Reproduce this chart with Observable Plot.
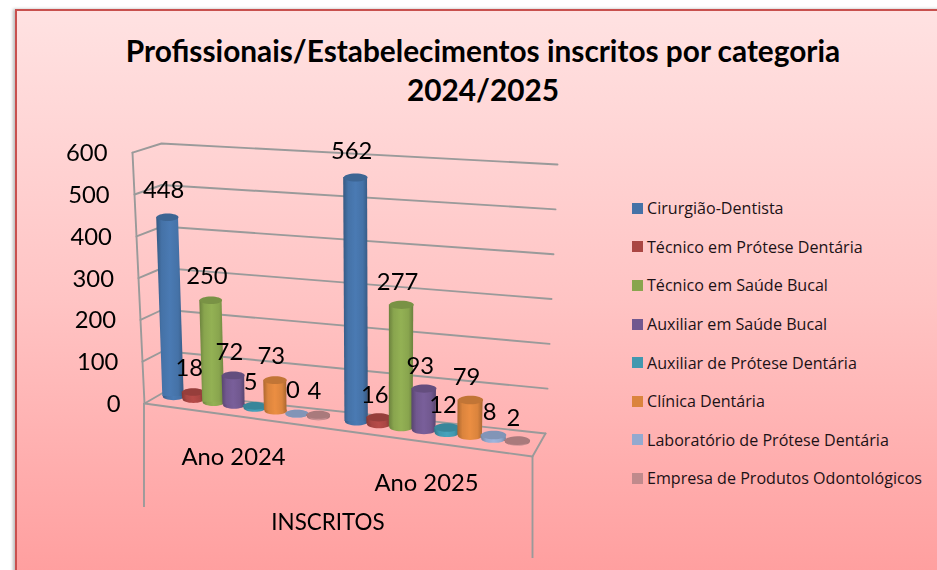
<!DOCTYPE html>
<html lang="pt">
<head>
<meta charset="utf-8">
<script src="https://cdn.jsdelivr.net/npm/d3@7"></script>
<script src="https://cdn.jsdelivr.net/npm/@observablehq/plot@0.6"></script>
<style>
  html, body { margin: 0; padding: 0; background: #fff; }
  #page { position: relative; width: 937px; height: 570px; overflow: hidden; font-family: Lato, sans-serif; color: #000; }
  #frame { position: absolute; left: 15px; top: 9px; width: 940px; height: 580px; box-sizing: border-box;
           border: 2px solid #c8504e; box-shadow: -2px 0 3px #bbb;
           background: linear-gradient(180deg, #ffe2e2 0%, #ffc4c4 50%, #ff9d9d 100%); }
  #title { position: absolute; left: 16px; width: 934px; top: 31px; text-align: center; font-weight: 700; font-size: 29.8px; line-height: 39px; margin: 0; }
  #chart { position: absolute; left: 0; top: 110px; }
  #chart svg { background: transparent; filter: blur(0.4px); overflow: visible; }
  #legend { position: absolute; left: 632px; top: 189px; font-family: "Open Sans", sans-serif; font-size: 16.1px; color: #1c1216; }
  .row { display: flex; align-items: center; height: 38.6px; white-space: nowrap; }
  .row i { display: block; width: 11px; height: 11px; margin-right: 4px; }
</style>
</head>
<body>
<div id="page">
  <div id="frame"></div>
  <h1 id="title">Profissionais/Estabelecimentos inscritos por categoria<br>2024/2025</h1>
  <div id="chart"></div>
  <div id="legend"></div>
</div>
<script>
// ---- data ----
const years = ["Ano 2024", "Ano 2025"];
const categories = [
  "Cirurgião-Dentista",
  "Técnico em Prótese Dentária",
  "Técnico em Saúde Bucal",
  "Auxiliar em Saúde Bucal",
  "Auxiliar de Prótese Dentária",
  "Clínica Dentária",
  "Laboratório de Prótese Dentária",
  "Empresa de Produtos Odontológicos"
];
const values2024 = [448, 18, 250, 72, 5, 73, 0, 4];
const values2025 = [562, 16, 277, 93, 12, 79, 8, 2];
const colors = ["#4572A7", "#AA4643", "#89A54E", "#71588F", "#4198AF", "#DB843D", "#93A9CF", "#C08A8C"];
const yTicks = [0, 100, 200, 300, 400, 500, 600];
const axisTitle = "INSCRITOS";

// ---- oblique 3D projection: (slot along the floor, value) -> plot coordinates ----
const K = 0.418;                       // pixels per value unit at the front-left edge
const OFFSET_TOP = 110;                // svg top on the page
const W = 600, H = 460;
const vOf = (p) => (403 - p) / K;      // page row expressed in value units for the y scale
const groupGap = 8.75;
const baseX = (s) => 173 + 19.8 * s + 0.129 * s * s;
const baseRow = (s) => 396 + 2.857 * s;
const rise = (s) => 0.40 + 0.0039 * s;
const lean = (s) => -0.033 + 0.0033 * s;
const radius = (s) => 10.7 + 0.115 * s;
const ASPECT = 0.34;
const FONT = 23.8;

const frontLeft = (v) => ({x: 144 - v * 0.02, y: vOf(403 - v * 0.418)});
const backLeft = (v) => ({x: 163 - v * 0.0033, y: vOf(392 - v * 0.415)});
const backRight = (v) => ({x: 545 + v * 0.02, y: vOf(433 - v * 0.4483)});
const frontRight = {x: 532, y: vOf(456)};

const bars = years.flatMap((year, j) =>
  (j ? values2025 : values2024).map((value, i) => {
    const s = i + j * groupGap;
    const r = radius(s);
    const px = value * rise(s);
    const xBase = baseX(s);
    const xTop = xBase + lean(s) * px;
    const rTop = r * 1.02;
    const lift = i === 0 ? 26.5 : (j ? 22.3 : 23.5);
    return {year, i, value, s, r, rTop, color: colors[i], lift,
            xBase, xTop, yBase: vOf(baseRow(s)), yTop: vOf(baseRow(s) - px)};
  })
);

// ---- ellipse symbol for cylinder caps ----
const ellipse = {
  draw(ctx, size) {
    const rx = Math.sqrt(size / Math.PI), ry = rx * ASPECT, c = 0.5523;
    ctx.moveTo(-rx, 0);
    ctx.bezierCurveTo(-rx, -ry * c, -rx * c, -ry, 0, -ry);
    ctx.bezierCurveTo(rx * c, -ry, rx, -ry * c, rx, 0);
    ctx.bezierCurveTo(rx, ry * c, rx * c, ry, 0, ry);
    ctx.bezierCurveTo(-rx * c, ry, -rx, ry * c, -rx, 0);
    ctx.closePath();
  }
};

const gridColor = "#9a9a9a";
const gridMarks = yTicks.map((v) =>
  Plot.line([frontLeft(v), backLeft(v), backRight(v)], {x: "x", y: "y", stroke: gridColor, strokeWidth: 1.9})
);

const floorMarks = [
  Plot.line([frontLeft(0), frontRight, backRight(0)], {x: "x", y: "y", stroke: gridColor, strokeWidth: 1.9}),
  Plot.line([frontLeft(600), frontLeft(0)], {x: "x", y: "y", stroke: gridColor, strokeWidth: 1.9}),
  Plot.ruleX([frontLeft(0).x - 0.5], {y1: vOf(403), y2: vOf(507), stroke: gridColor, strokeWidth: 1.9}),
  Plot.ruleX([frontRight.x], {y1: vOf(456), y2: vOf(558), stroke: gridColor, strokeWidth: 1.9})
];

const barMarks = bars.flatMap((d) => {
  const fill = `url(#cyl${d.i})`;
  const side = [
    {xl: d.xTop - d.rTop, xr: d.xTop + d.rTop, y: d.yTop},
    {xl: d.xBase - d.r, xr: d.xBase + d.r, y: d.yBase}
  ];
  return [
    Plot.dot([d], {x: "xBase", y: "yBase", r: d.r, symbol: ellipse, fill}),
    Plot.area(side, {x1: "xl", x2: "xr", y1: "y", fill}),
    Plot.dot([d], {x: "xTop", y: "yTop", r: d.rTop, symbol: ellipse, fill: d3.color(d.color).darker(0.35).formatHex()})
  ];
});

const chart = Plot.plot({
  width: W,
  height: H,
  margin: 0,
  style: {background: "transparent"},
  x: {domain: [0, W], range: [0, W], axis: null},
  y: {domain: [vOf(OFFSET_TOP + H), vOf(OFFSET_TOP)], range: [H, 0], axis: null},
  marks: [
    ...gridMarks,
    ...floorMarks,
    ...barMarks,
    Plot.text(yTicks, {
      x: (v) => 120 - v * 0.0217,
      y: (v) => vOf(404 - v * 0.4183),
      text: (v) => String(v),
      textAnchor: "end", fontSize: FONT, fontFamily: "Lato, sans-serif", fill: "#000"
    }),
    ...[26.5, 23.5, 22.3].map((lift) =>
      Plot.text(bars.filter((d) => d.lift === lift), {
        x: (d) => d.xTop - 4,
        y: "yTop",
        dy: -lift,
        text: (d) => String(d.value),
        fontSize: FONT, fontFamily: "Lato, sans-serif", fill: "#000"
      })
    ),
    Plot.text(years, {
      x: (d, i) => [233, 426][i],
      y: (d, i) => vOf([457, 483][i]),
      text: (d) => d,
      fontSize: FONT, fontFamily: "Lato, sans-serif", fill: "#000"
    }),
    Plot.text([axisTitle], {
      x: 327.5, y: vOf(522), text: (d) => d,
      fontSize: 22.4, fontFamily: "Lato, sans-serif", fill: "#000"
    })
  ]
});

// horizontal shading for each cylinder, built from the series colours
const ns = "http://www.w3.org/2000/svg";
const defs = document.createElementNS(ns, "defs");
colors.forEach((c, i) => {
  const g = document.createElementNS(ns, "linearGradient");
  g.setAttribute("id", `cyl${i}`);
  [[0, d3.color(c).darker(0.7)], [0.2, d3.color(c)], [0.5, d3.color(c).brighter(0.2)], [0.8, d3.color(c)], [1, d3.color(c).darker(0.7)]]
    .forEach(([o, col]) => {
      const st = document.createElementNS(ns, "stop");
      st.setAttribute("offset", o);
      st.setAttribute("stop-color", col.formatHex());
      g.appendChild(st);
    });
  defs.appendChild(g);
});
chart.insertBefore(defs, chart.firstChild);
document.getElementById("chart").appendChild(chart);

// legend
const legend = document.getElementById("legend");
categories.forEach((name, i) => {
  const row = document.createElement("div");
  row.className = "row";
  const sw = document.createElement("i");
  sw.style.background = colors[i];
  const label = document.createElement("span");
  label.textContent = name;
  row.append(sw, label);
  legend.appendChild(row);
});
</script>
</body>
</html>
